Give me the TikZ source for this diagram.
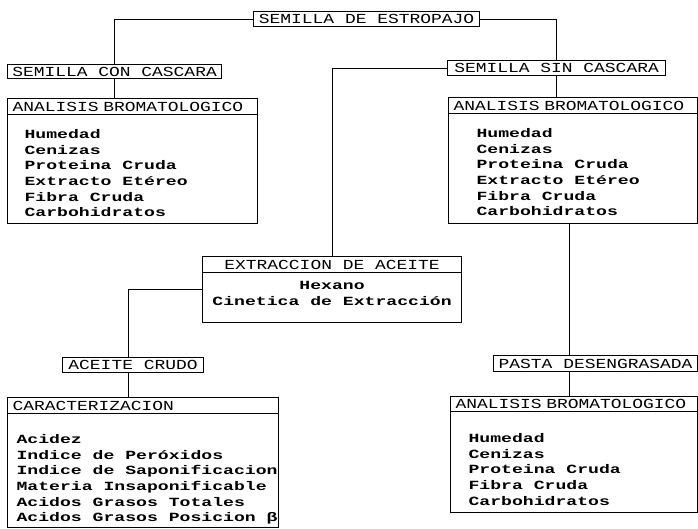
\documentclass[tikz,border=0pt]{standalone}
\usepackage{fontspec}
\newfontfamily\dotf[FakeStretch=1.45]{Liberation Mono}
\newfontfamily\capf[FakeStretch=1.3]{Liberation Mono}
\usetikzlibrary{positioning}

\begin{document}
\begin{tikzpicture}[x=1pt, y=-1pt, line width=1.1pt,
	every node/.style={font=\capf\fontsize{13.8}{15.6}\selectfont},
	tag/.style={draw, rectangle, inner sep=0pt, minimum height=15pt, anchor=north west},
	hdr/.style={tag, inner xsep=5pt, align=left},
	outer/.style={draw, rectangle, inner sep=0pt, anchor=north west},
	lst/.style={inner sep=0pt, anchor=north west, align=left, font=\dotf\bfseries\fontsize{12.5}{15.6}\selectfont}]
	\useasboundingbox (0,0) rectangle (698,528);

	% seeds
	\node[tag, minimum width=226pt] (sde) at (253,11) {SEMILLA DE ESTROPAJO};
	\node[tag, minimum width=214pt, minimum height=14pt] (scc) at (7,64) {SEMILLA CON CASCARA};
	\node[tag, minimum width=218pt] (ssc) at (447,60) {SEMILLA SIN CASCARA};

	% left analysis
	\node[outer, minimum width=250pt, minimum height=125pt] (lab) at (7,98) {};
	\node[hdr, text width=240pt, minimum height=16pt] (labh) at (lab.north west) {ANALISIS BROMATOLOGICO};
	\node[lst, below right=14pt and 17pt of labh.south west] (labl) {Humedad\\Cenizas\\Proteina Cruda\\Extracto Etéreo\\Fibra Cruda\\Carbohidratos};

	% right analysis
	\node[outer, minimum width=249pt, minimum height=126pt] (rab) at (448,97) {};
	\node[hdr, text width=239pt, minimum height=16pt] (rabh) at (rab.north west) {ANALISIS BROMATOLOGICO};
	\node[lst, below right=14pt and 28pt of rabh.south west] (rabl) {Humedad\\Cenizas\\Proteina Cruda\\Extracto Etéreo\\Fibra Cruda\\Carbohidratos};

	% extraction
	\node[outer, minimum width=259pt, minimum height=66pt] (ext) at (202,256) {};
	\node[tag, minimum width=259pt, minimum height=16pt] (exth) at (ext.north west) {EXTRACCION DE ACEITE};
	\node[lst, align=center, anchor=north, below=8pt of exth] (extl) {Hexano\\Cinetica de Extracción};

	% oil
	\node[tag, minimum width=141pt] (acr) at (62,357) {ACEITE CRUDO};
	\node[outer, minimum width=271pt, minimum height=130pt] (car) at (7,397) {};
	\node[hdr, text width=261pt, minimum height=16pt] (carh) at (car.north west) {CARACTERIZACION};
	\node[lst, below right=20pt and 9pt of carh.south west] (carl) {Acidez\\Indice de Peróxidos\\Indice de Saponificacion\\Materia Insaponificable\\Acidos Grasos Totales\\Acidos Grasos Posicion β};

	% meal
	\node[tag, minimum width=204pt, minimum height=16pt] (pds) at (493,355) {PASTA DESENGRASADA};
	\node[outer, minimum width=247pt, minimum height=116pt] (bab) at (450,396) {};
	\node[hdr, text width=237pt, minimum height=15pt] (babh) at (bab.north west) {ANALISIS BROMATOLOGICO};
	\node[lst, below right=21pt and 18pt of babh.south west] (babl) {Humedad\\Cenizas\\Proteina Cruda\\Fibra Cruda\\Carbohidratos};

	\draw (sde.west) -| (scc.north);
	\draw (sde.east) -| (ssc.north);
	\draw (ssc.west) -| (ext.north);
	\draw (scc.south) -- (scc.south |- lab.north);
	\draw (ssc.south) -- (ssc.south |- rab.north);
	\draw ([xshift=-4pt]rab.south) -- ([xshift=-4pt]rab.south |- pds.north);
	\draw ([xshift=-4pt]rab.south |- pds.south) -- ([xshift=-4pt]rab.south |- bab.north);
	\draw (ext.west) -| ([xshift=-5pt]acr.north);
	\draw ([xshift=-5pt]acr.south) -- ([xshift=-5pt]acr.south |- car.north);
\end{tikzpicture}
\end{document}
